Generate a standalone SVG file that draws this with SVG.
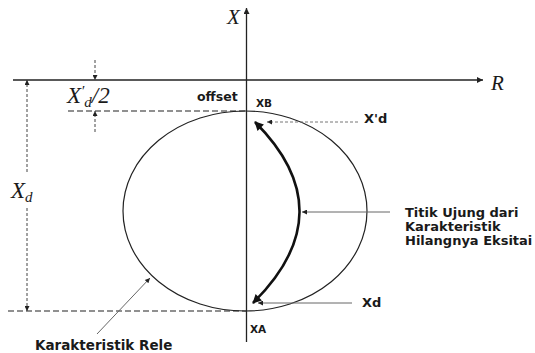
<svg xmlns="http://www.w3.org/2000/svg" width="535" height="353" viewBox="0 0 535 353">
<style>
.lbl{font-family:"DejaVu Sans","Liberation Sans",sans-serif;font-weight:bold;fill:#1a1a1a}
.math{font-family:"Liberation Serif","DejaVu Serif",serif;font-style:italic;fill:#1a1a1a}
.axis{stroke:#222;stroke-width:1.3;fill:none}
.dash{stroke:#222;stroke-width:1.2;stroke-dasharray:6 3;fill:none}
.dim{stroke:#444;stroke-width:1;stroke-dasharray:3 2;fill:none}
.lead{stroke:#666;stroke-width:1;fill:none}
.leadd{stroke:#777;stroke-width:1;stroke-dasharray:3 2;fill:none}
</style>
<defs>
<marker id="ah" viewBox="0 0 10 10" refX="10" refY="5" markerWidth="8" markerHeight="6" markerUnits="userSpaceOnUse" orient="auto-start-reverse">
<path d="M0,0 L10,5 L0,10 z" fill="#222"/>
</marker>
<marker id="ahs" viewBox="0 0 10 10" refX="10" refY="5" markerWidth="7" markerHeight="5" markerUnits="userSpaceOnUse" orient="auto-start-reverse">
<path d="M0,0 L10,5 L0,10 z" fill="#222"/>
</marker>
<marker id="ahb" viewBox="0 0 10 10" refX="9" refY="5" markerWidth="12" markerHeight="9" markerUnits="userSpaceOnUse" orient="auto-start-reverse">
<path d="M0,0 L10,5 L0,10 z" fill="#111"/>
</marker>
</defs>
<rect width="535" height="353" fill="#fff"/>

<g id="axes">
<line class="axis" x1="13" y1="80" x2="483" y2="80" marker-end="url(#ah)"/>
<line class="axis" x1="246.5" y1="342" x2="246.5" y2="8" marker-end="url(#ah)"/>
<text class="math" x="227" y="24" font-size="21">X</text>
<text class="math" x="491" y="90" font-size="21">R</text>
</g>

<g id="relay-characteristic">
<ellipse cx="245" cy="211" rx="122" ry="100" fill="none" stroke="#222" stroke-width="1.2"/>
</g>

<g id="guides">
<line class="dash" x1="68" y1="111" x2="246" y2="111"/>
<line class="dash" x1="8" y1="311" x2="246" y2="311"/>
</g>

<g id="dimensions">
<line class="dim" x1="95" y1="60" x2="95" y2="80" marker-end="url(#ahs)"/>
<line class="dim" x1="95" y1="132" x2="95" y2="111" marker-end="url(#ahs)"/>
<line class="dim" x1="27" y1="172" x2="27" y2="80" marker-end="url(#ahs)"/>
<line class="dim" x1="27" y1="208" x2="27" y2="311" marker-end="url(#ahs)"/>
<text class="math" x="67" y="103" font-size="23">X<tspan font-size="15" dy="-7">′</tspan><tspan font-size="15" dy="11">d</tspan><tspan font-size="23" dy="-4">/2</tspan></text>
<text class="math" x="11" y="198" font-size="23">X<tspan font-size="15" dy="4">d</tspan></text>
</g>

<g id="loss-of-excitation">
<path d="M255,122 Q345,212 253,303" fill="none" stroke="#111" stroke-width="2.6" marker-start="url(#ahb)" marker-end="url(#ahb)"/>
</g>

<g id="connectors">
<line class="leadd" x1="358" y1="122" x2="267" y2="122" marker-end="url(#ahs)"/>
<line class="lead" x1="390" y1="212" x2="302" y2="212" marker-end="url(#ahs)"/>
<line class="lead" x1="352" y1="303" x2="258" y2="303" marker-end="url(#ahs)"/>
<line class="lead" x1="97" y1="334" x2="150" y2="278" marker-end="url(#ahs)"/>
</g>

<g id="labels">
<text class="lbl" x="197" y="101" font-size="12.5">offset</text>
<text class="lbl" x="256" y="107" font-size="10.5">XB</text>
<text class="lbl" x="250" y="333" font-size="10.5">XA</text>
<text class="lbl" x="364" y="123" font-size="13">X'd</text>
<text class="lbl" x="362" y="307" font-size="13">Xd</text>
<text class="lbl" x="405" y="217" font-size="13">Titik Ujung dari</text>
<text class="lbl" x="405" y="231" font-size="13">Karakteristik</text>
<text class="lbl" x="405" y="245" font-size="13">Hilangnya Eksitai</text>
<text class="lbl" x="35" y="350" font-size="13.5">Karakteristik Rele</text>
</g>
</svg>
